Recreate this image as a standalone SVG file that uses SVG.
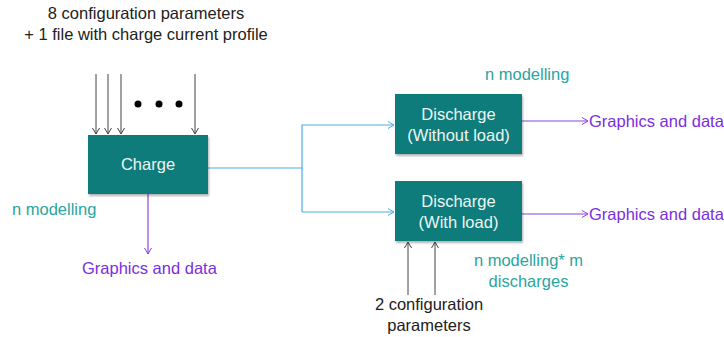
<svg xmlns="http://www.w3.org/2000/svg" width="724" height="337" viewBox="0 0 724 337">
<style>
text{font-family:"Liberation Sans",Arial,sans-serif;font-size:16.5px}
.box{fill:#0b7b7a;filter:url(#sh)}
.wt{fill:#eef6f6;text-anchor:middle}
.bk{fill:#222;text-anchor:middle}
.tl{fill:#2aa5a0}
.pu{fill:#7a2ee0}
.gl{stroke:#444;stroke-width:1;fill:none}
.bl{stroke:#4aaee6;stroke-width:1.2;fill:none}
.pl{stroke:#8a45e0;stroke-width:1.2;fill:none}
</style>
<defs>
<filter id="sh" x="-10%" y="-10%" width="125%" height="130%"><feDropShadow dx="1" dy="2" stdDeviation="1.2" flood-color="#000" flood-opacity="0.3"/></filter>
<marker id="ag" markerWidth="10" markerHeight="10" refX="8" refY="5" orient="auto" markerUnits="userSpaceOnUse"><path d="M2,1.5 L8,5 L2,8.5" fill="none" stroke="#444" stroke-width="1"/></marker>
<marker id="ab" markerWidth="10" markerHeight="10" refX="8" refY="5" orient="auto" markerUnits="userSpaceOnUse"><path d="M2,1.5 L8,5 L2,8.5" fill="none" stroke="#4aaee6" stroke-width="1"/></marker>
<marker id="ap" markerWidth="10" markerHeight="10" refX="8" refY="5" orient="auto" markerUnits="userSpaceOnUse"><path d="M2,1.5 L8,5 L2,8.5" fill="none" stroke="#8a45e0" stroke-width="1"/></marker>
</defs>
<rect width="724" height="337" fill="#fff"/>
<text class="bk" x="146" y="19">8 configuration parameters</text>
<text class="bk" x="146" y="40">+ 1 file with charge current profile</text>
<g id="connectors">
<line class="gl" x1="96" y1="74" x2="96" y2="134" marker-end="url(#ag)"/>
<line class="gl" x1="108" y1="74" x2="108" y2="134" marker-end="url(#ag)"/>
<line class="gl" x1="121" y1="74" x2="121" y2="134" marker-end="url(#ag)"/>
<line class="gl" x1="195" y1="74" x2="195" y2="134" marker-end="url(#ag)"/>
<path class="bl" d="M208,168 H302"/>
<path class="bl" d="M302,212 V125 H394" marker-end="url(#ab)"/>
<path class="bl" d="M302,212 H394" marker-end="url(#ab)"/>
<line class="pl" x1="148" y1="194" x2="148" y2="254" marker-end="url(#ap)"/>
<line class="pl" x1="522" y1="121" x2="588" y2="121" marker-end="url(#ap)"/>
<line class="pl" x1="522" y1="214" x2="588" y2="214" marker-end="url(#ap)"/>
<line class="gl" x1="408" y1="295" x2="408" y2="242" marker-end="url(#ag)"/>
<line class="gl" x1="435" y1="295" x2="435" y2="242" marker-end="url(#ag)"/>
</g>
<circle cx="138" cy="104" r="3.5" fill="#000"/>
<circle cx="159" cy="104" r="3.5" fill="#000"/>
<circle cx="179" cy="104" r="3.5" fill="#000"/>
<g id="charge">
<rect class="box" x="88" y="135" width="120" height="59"/>
<text class="wt" x="148" y="170">Charge</text>
</g>
<g id="discharge-without">
<rect class="box" x="395" y="94" width="127" height="60"/>
<text class="wt" x="458.5" y="120">Discharge</text>
<text class="wt" x="458.5" y="141">(Without load)</text>
</g>
<g id="discharge-with">
<rect class="box" x="395" y="181" width="127" height="60"/>
<text class="wt" x="458.5" y="207">Discharge</text>
<text class="wt" x="458.5" y="228">(With load)</text>
</g>
<text class="tl" x="12" y="215">n modelling</text>
<text class="tl" x="485" y="80">n modelling</text>
<text class="tl" x="528.5" y="266" text-anchor="middle">n modelling* m</text>
<text class="tl" x="528.5" y="287" text-anchor="middle">discharges</text>
<text class="pu" x="82" y="274">Graphics and data</text>
<text class="pu" x="589" y="127">Graphics and data</text>
<text class="pu" x="589" y="220">Graphics and data</text>
<text class="bk" x="429" y="310">2 configuration</text>
<text class="bk" x="429" y="331">parameters</text>
</svg>
